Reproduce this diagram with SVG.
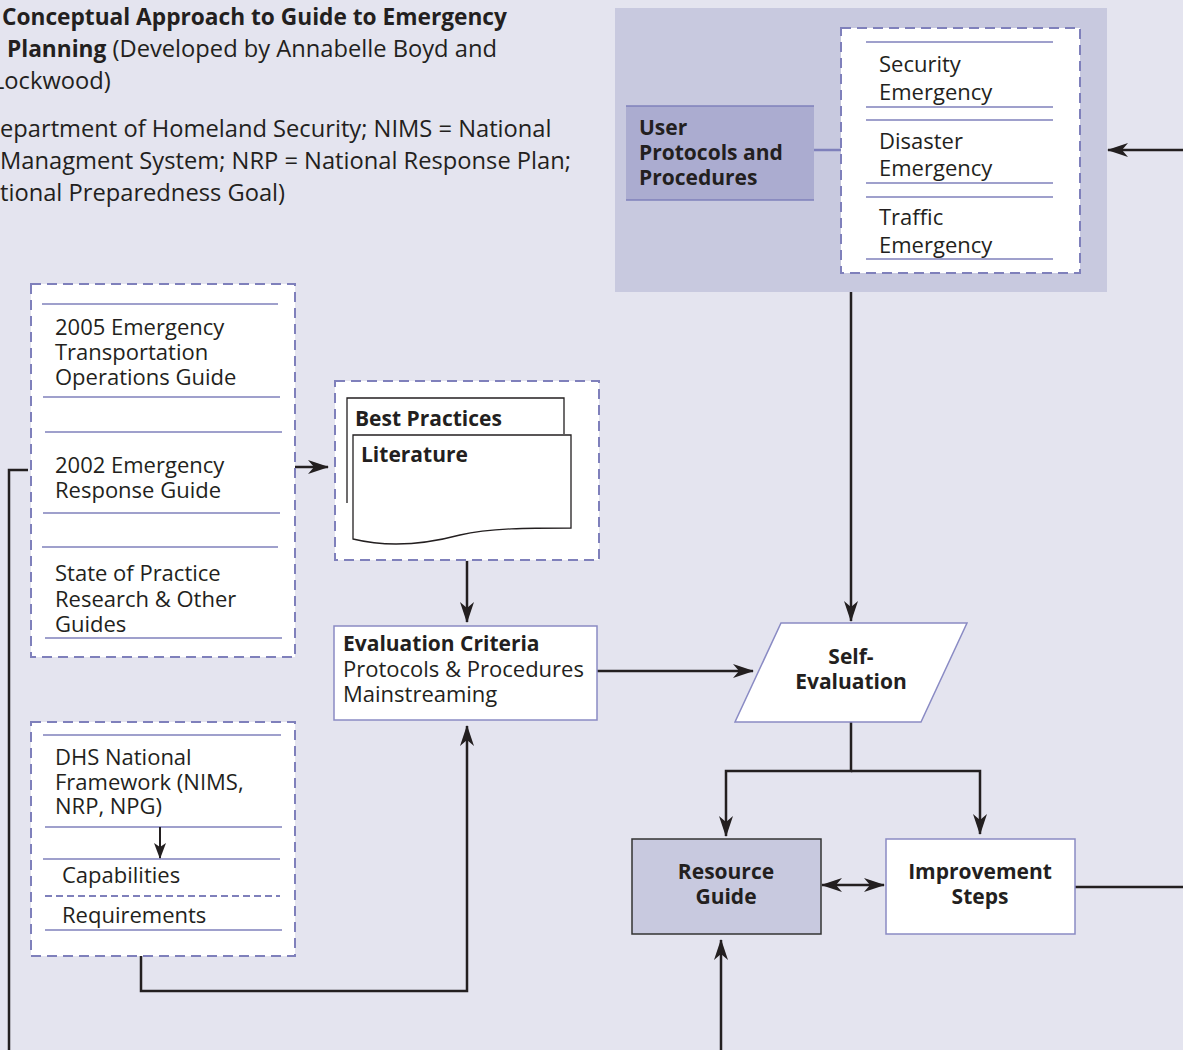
<svg xmlns="http://www.w3.org/2000/svg" width="1183" height="1050" viewBox="0 0 1183 1050">
<defs>
<marker id="ah" markerUnits="userSpaceOnUse" markerWidth="22" markerHeight="16" refX="20" refY="8" orient="auto-start-reverse" viewBox="0 0 22 16">
<path d="M0,1 L21,8 L0,15 L6,8 z" fill="#231f20"/>
</marker>
<marker id="ahs" markerUnits="userSpaceOnUse" markerWidth="16" markerHeight="14" refX="15" refY="7" orient="auto" viewBox="0 0 16 14">
<path d="M0,1 L16,7 L0,13 L4,7 z" fill="#231f20"/>
</marker>
<style>
text{font-family:"Open Sans","Liberation Sans",sans-serif;fill:#231f20;font-size:22px}
.b{font-weight:bold;font-size:21px}
.tb{font-weight:bold;font-size:22.7px}
.t{font-size:23.7px}
.dash{fill:#fff;stroke:#7f80bb;stroke-width:2;stroke-dasharray:10,6}
.sep{stroke:#7f80bb;stroke-width:1.3}
.con{fill:none;stroke:#231f20;stroke-width:2.5}
.mid{text-anchor:middle}
</style>
</defs>
<rect width="1183" height="1050" fill="#e4e4ef"/>
<g id="title">
<text class="tb" x="2" y="25">Conceptual Approach to Guide to Emergency</text>
<text class="t" x="7" y="57"><tspan class="tb">Planning</tspan> (Developed by Annabelle Boyd and</text>
<text class="t" x="-8" y="89">Lockwood)</text>
<text class="t" x="0" y="137">epartment of Homeland Security; NIMS = National</text>
<text class="t" x="0" y="169">Managment System; NRP = National Response Plan;</text>
<text class="t" x="0" y="201">tional Preparedness Goal)</text>
</g>
<g id="connectors">
<path class="con" d="M1183,150 L1108,150" marker-end="url(#ah)"/>
<path class="con" d="M851,292 L851,621" marker-end="url(#ah)"/>
<path class="con" d="M295,467 L328,467" marker-end="url(#ah)"/>
<path class="con" d="M28,470 L9,470 L9,1050"/>
<path class="con" d="M467,561 L467,622" marker-end="url(#ah)"/>
<path class="con" d="M597,671 L753,671" marker-end="url(#ah)"/>
<path class="con" d="M141,956 L141,991 L467,991 L467,726" marker-end="url(#ah)"/>
<path class="con" d="M851,722 L851,771 L726,771 L726,836" marker-end="url(#ah)"/>
<path class="con" d="M851,771 L980,771 L980,834" marker-end="url(#ah)"/>
<path class="con" d="M822,885 L884,885" marker-start="url(#ah)" marker-end="url(#ah)"/>
<path class="con" d="M1075,887 L1183,887"/>
<path class="con" d="M721,1050 L721,940" marker-end="url(#ah)"/>
</g>
<g id="user-panel">
<rect x="615" y="8" width="492" height="284" fill="#c8c9df"/>
<line x1="814" y1="150" x2="841" y2="150" stroke="#7f80bb" stroke-width="2.5"/>
</g>
<g id="user-protocols">
<rect x="626" y="106" width="188" height="94" fill="#abacd0"/>
<line x1="626" y1="106" x2="814" y2="106" class="sep"/>
<line x1="626" y1="200" x2="814" y2="200" class="sep"/>
<text class="b" x="639" y="135">User</text>
<text class="b" x="639" y="160">Protocols and</text>
<text class="b" x="639" y="185">Procedures</text>
</g>
<g id="emergency-types">
<rect x="841" y="28" width="239" height="245" class="dash"/>
<line x1="866" y1="42" x2="1053" y2="42" class="sep"/>
<line x1="866" y1="107" x2="1053" y2="107" class="sep"/>
<line x1="866" y1="120" x2="1053" y2="120" class="sep"/>
<line x1="866" y1="183" x2="1053" y2="183" class="sep"/>
<line x1="866" y1="197" x2="1053" y2="197" class="sep"/>
<line x1="866" y1="259" x2="1053" y2="259" class="sep"/>
<text x="879" y="72">Security</text>
<text x="879" y="100">Emergency</text>
<text x="879" y="149">Disaster</text>
<text x="879" y="176">Emergency</text>
<text x="879" y="225">Traffic</text>
<text x="879" y="253">Emergency</text>
</g>
<g id="guides">
<rect x="31" y="284" width="264" height="373" class="dash"/>
<line x1="42" y1="304" x2="278" y2="304" class="sep"/>
<line x1="43" y1="397" x2="280" y2="397" class="sep"/>
<line x1="45" y1="432" x2="282" y2="432" class="sep"/>
<line x1="43" y1="513" x2="280" y2="513" class="sep"/>
<line x1="42" y1="547" x2="278" y2="547" class="sep"/>
<line x1="45" y1="638" x2="282" y2="638" class="sep"/>
<text x="55" y="335">2005 Emergency</text>
<text x="55" y="360">Transportation</text>
<text x="55" y="385">Operations Guide</text>
<text x="55" y="473">2002 Emergency</text>
<text x="55" y="498">Response Guide</text>
<text x="55" y="581">State of Practice</text>
<text x="55" y="607">Research &amp; Other</text>
<text x="55" y="632">Guides</text>
</g>
<g id="best-practices">
<rect x="335" y="381" width="264" height="179" class="dash"/>
<path d="M347,503 L347,398 L564,398 L564,434" fill="#fff" stroke="#231f20" stroke-width="1.3"/>
<path d="M353,539 L353,435 L571,435 L571,528 C530,528 490,528 460,535 C430,543 390,548 353,539 z" fill="#fff" stroke="#231f20" stroke-width="1.3"/>
<text class="b" x="355" y="426">Best Practices</text>
<text class="b" x="361" y="462">Literature</text>
</g>
<g id="evaluation-criteria">
<rect x="334" y="626" width="263" height="94" fill="#fff" stroke="#8a8bc4" stroke-width="1.5"/>
<text class="b" x="343" y="651">Evaluation Criteria</text>
<text x="343" y="677">Protocols &amp; Procedures</text>
<text x="343" y="702">Mainstreaming</text>
</g>
<g id="dhs-framework">
<rect x="31" y="722" width="264" height="234" class="dash"/>
<line x1="43" y1="735" x2="281" y2="735" class="sep"/>
<line x1="45" y1="827" x2="282" y2="827" class="sep"/>
<line x1="43" y1="859" x2="280" y2="859" class="sep"/>
<line x1="45" y1="896" x2="280" y2="896" stroke="#7f80bb" stroke-width="1.8" stroke-dasharray="7,4"/>
<line x1="45" y1="930" x2="282" y2="930" class="sep"/>
<path d="M160,827 L160,858" fill="none" stroke="#231f20" stroke-width="2" marker-end="url(#ahs)"/>
<text x="55" y="765">DHS National</text>
<text x="55" y="790">Framework (NIMS,</text>
<text x="55" y="814">NRP, NPG)</text>
<text x="62" y="883">Capabilities</text>
<text x="62" y="923">Requirements</text>
</g>
<g id="self-evaluation">
<polygon points="781,623 967,623 921,722 735,722" fill="#fff" stroke="#8a8bc4" stroke-width="1.5"/>
<text class="b mid" x="851" y="664">Self-</text>
<text class="b mid" x="851" y="689">Evaluation</text>
</g>
<g id="resource-guide">
<rect x="632" y="839" width="189" height="95" fill="#c8c9df" stroke="#333" stroke-width="1.5"/>
<text class="b mid" x="726" y="879">Resource</text>
<text class="b mid" x="726" y="904">Guide</text>
</g>
<g id="improvement-steps">
<rect x="886" y="839" width="189" height="95" fill="#fff" stroke="#8a8bc4" stroke-width="1.5"/>
<text class="b mid" x="980" y="879">Improvement</text>
<text class="b mid" x="980" y="904">Steps</text>
</g>
</svg>
